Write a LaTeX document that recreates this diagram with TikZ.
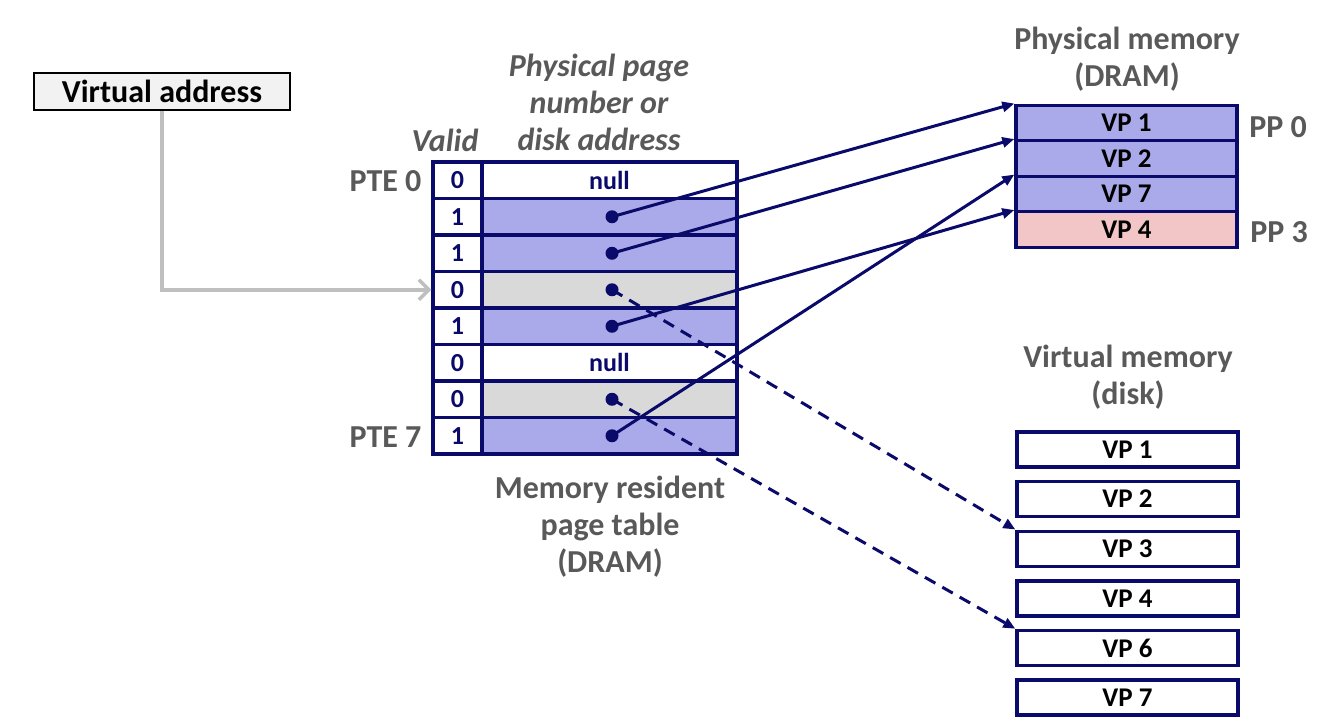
\documentclass[tikz,border=0pt]{standalone}
\usepackage{fontspec}
\setmainfont{Carlito}
\usetikzlibrary{arrows.meta}
\definecolor{navy}{HTML}{0A0A6A}
\definecolor{cellblue}{HTML}{AAAAEA}
\definecolor{cellgray}{HTML}{D9D9D9}
\definecolor{cellpink}{HTML}{F2C6C6}
\definecolor{lbl}{HTML}{595959}
\definecolor{vabox}{HTML}{F2F2F2}
\definecolor{conn}{HTML}{BFBFBF}
\begin{document}
\begin{tikzpicture}[x=1pt,y=-1pt,
  cell/.style={draw=navy,line width=3.4pt,rectangle,inner sep=0pt,font=\fontsize{26}{26}\selectfont\bfseries,text=navy},
  vcell/.style={cell,minimum width=49pt,minimum height=36.5pt},
  pcell/.style={cell,minimum width=255pt,minimum height=36.5pt},
  mcell/.style={cell,minimum width=221pt,minimum height=35.5pt,text=black,font=\fontsize{27}{27}\selectfont\bfseries},
  dcell/.style={cell,minimum width=221pt,minimum height=35pt,text=black,font=\fontsize{27}{27}\selectfont\bfseries},
  lab/.style={text=lbl,font=\fontsize{32}{37}\selectfont\bfseries,align=center},
  ilab/.style={lab,font=\fontsize{32}{37}\selectfont\bfseries\itshape},
  dot/.style={circle,fill=navy,inner sep=0pt,minimum size=13pt},
  ptr/.style={draw=navy,line width=3pt,-{Triangle[length=12pt,width=10pt]}},
  dptr/.style={ptr,dash pattern=on 12pt off 8pt}
]
\useasboundingbox (0,0) rectangle (1319,726);

% Virtual address
\node[draw=black,fill=vabox,line width=2.5pt,minimum width=256pt,minimum height=37pt,inner sep=0pt,font=\fontsize{32}{32}\selectfont\bfseries] (va) at (162,91.5) {Virtual address};

% page table
\foreach \i/\v/\f/\t in {0/0/white/null,1/1/cellblue/,2/1/cellblue/,3/0/cellgray/,4/1/cellblue/,5/0/white/null,6/0/cellgray/,7/1/cellblue/}{
  \node[pcell,fill=\f] (p\i) at (609.5,{180.25+36.5*\i}) {\t};
  \node[vcell,fill=white] (v\i) at (457.5,{180.25+36.5*\i}) {\v};
}
\draw[navy,line width=3.4pt] (433,162) rectangle (737,454);
\foreach \i in {1,2,3,4,6,7}{
  \node[dot] (d\i) at (612,{180.25+36.5*\i}) {};
}

% labels page table
\node[ilab] (valid) at (445,140) {Valid};
\node[ilab] (ppn) at (599,102) {Physical page\\number or\\disk address};
\node[lab,anchor=east] (pte0) at (425,181) {PTE 0};
\node[lab,anchor=east] (pte7) at (425,437) {PTE 7};
\node[lab] (mrpt) at (610,527) {Memory resident\\page table\\(DRAM)};

% physical memory
\node[lab] (pmt) at (1127,59) {Physical memory\\(DRAM)};
\foreach \i/\t/\f in {0/VP 1/cellblue,1/VP 2/cellblue,2/VP 7/cellblue,3/VP 4/cellpink}{
  \node[mcell,fill=\f] (m\i) at (1126.5,{123+35.5*\i}) {\t};
}
\node[lab] (pp0) at (1278,127) {PP 0};
\node[lab] (pp3) at (1279,232) {PP 3};

% virtual memory
\node[lab] (vmt) at (1128,377) {Virtual memory\\(disk)};
\foreach \i/\t in {0/VP 1,1/VP 2,2/VP 3,3/VP 4,4/VP 6,5/VP 7}{
  \node[dcell,fill=white] (k\i) at (1127.5,{449.5+49.6*\i}) {\t};
}

% connectors
\draw[conn,line width=3.5pt,-{Straight Barb[length=10pt,width=20pt,line width=3.5pt]}] (va.south) |- (v3.west);
\draw[ptr] (d1.center) -- (m0.north west);
\draw[ptr] (d2.center) -- (m1.north west);
\draw[ptr] (d4.center) -- (m3.north west);
\draw[ptr] (d7.center) -- (m2.north west);
\draw[dptr] (d3.center) -- (k2.north west);
\draw[dptr] (d6.center) -- (k4.north west);
\end{tikzpicture}
\end{document}
